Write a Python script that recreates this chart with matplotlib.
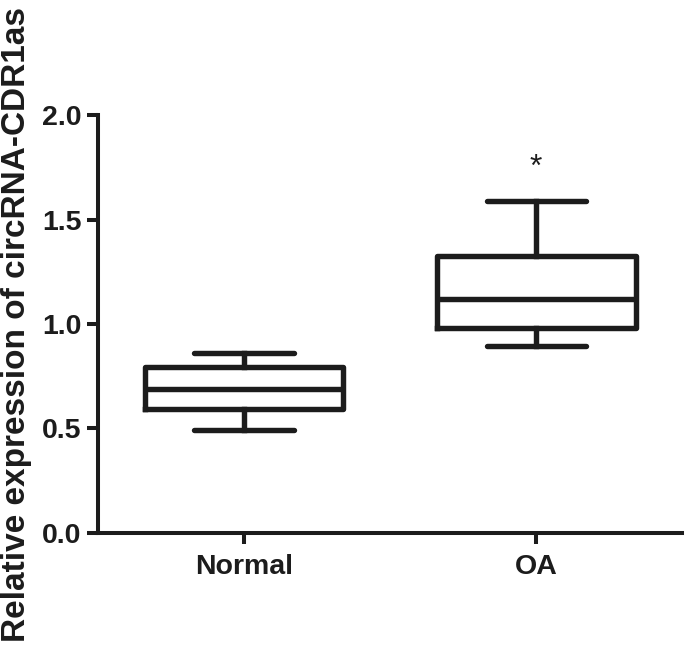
import matplotlib
matplotlib.use("Agg")
import matplotlib.pyplot as plt

groups = ["Normal", "OA"]
whisker_low = [0.492, 0.896]
q1 = [0.591, 0.982]
median = [0.687, 1.118]
q3 = [0.795, 1.325]
whisker_high = [0.859, 1.589]
star_group = "OA"
star_y = 1.745

INK = "#1c1c1c"
plt.rcParams["font.family"] = ["Liberation Sans", "DejaVu Sans"]

fig = plt.figure(figsize=(6.85, 6.48), dpi=100)
ax = fig.add_axes([0.143, 0.1775, 0.853, 0.645])

stats = [dict(label=g, whislo=lo, q1=a, med=m, q3=b, whishi=hi)
         for g, lo, a, m, b, hi in zip(groups, whisker_low, q1, median, q3, whisker_high)]
pos = list(range(1, len(groups) + 1))
lw = 3.9
ax.bxp(stats, positions=pos, widths=0.68, capwidths=[0.34] * len(groups), showfliers=False,
       boxprops=dict(color=INK, linewidth=lw, solid_joinstyle="round"),
       medianprops=dict(color=INK, linewidth=lw),
       whiskerprops=dict(color=INK, linewidth=lw),
       capprops=dict(color=INK, linewidth=lw, solid_capstyle="round"))

ax.text(pos[groups.index(star_group)], star_y, "*", ha="center", va="center",
        fontsize=23, color=INK)

ax.set_xlim(0.5, 2.5)
ax.set_ylim(0, 2.0)
ax.set_yticks([0.0, 0.5, 1.0, 1.5, 2.0])
ax.set_yticklabels(["0.0", "0.5", "1.0", "1.5", "2.0"])
ax.set_xticks(pos)
ax.set_xticklabels(groups)

for s in ("top", "right"):
    ax.spines[s].set_visible(False)
for s in ("left", "bottom"):
    ax.spines[s].set_linewidth(2.9)
    ax.spines[s].set_color(INK)
ax.tick_params(axis="both", direction="out", length=8, width=2.9, color=INK,
               labelsize=20.5, labelcolor=INK, pad=4)
ax.tick_params(axis="x", pad=7)
for t in ax.get_xticklabels() + ax.get_yticklabels():
    t.set_fontweight("bold")

fig.text(0.024, 0.5, "Relative expression of circRNA-CDR1as", rotation=90,
         ha="center", va="center", fontsize=24, fontweight="bold", color=INK)

fig.savefig("out.png", dpi=100)
